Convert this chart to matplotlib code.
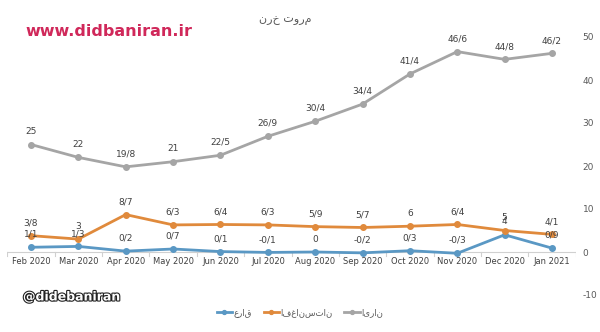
import matplotlib
matplotlib.use("Agg")
from matplotlib import pyplot as plt
import matplotlib.patheffects as pe

months = ["Feb 2020", "Mar 2020", "Apr 2020", "May 2020", "Jun 2020", "Jul 2020",
          "Aug 2020", "Sep 2020", "Oct 2020", "Nov 2020", "Dec 2020", "Jan 2021"]
iran = [25, 22, 19.8, 21, 22.5, 26.9, 30.4, 34.4, 41.4, 46.6, 44.8, 46.2]
afghanistan = [3.8, 3, 8.7, 6.3, 6.4, 6.3, 5.9, 5.7, 6, 6.4, 5, 4.1]
iraq = [1.1, 1.3, 0.2, 0.7, 0.1, -0.1, 0, -0.2, 0.3, -0.3, 4, 0.9]
y_ticks = [-10, 0, 10, 20, 30, 40, 50]

title_fa = "نرخ تورم"
name_iran = "ایران"
name_afg = "افغانستان"
name_iraq = "عراق"

def fa_num(v):
    return ("%g" % v).replace(".", "/")

fig = plt.figure(figsize=(6, 3.32), dpi=100)
ax = fig.add_axes([7.3 / 600, 1 - 295 / 332, (575.7 - 7.3) / 600, 258 / 332])

x = list(range(len(months)))
series = [(iraq, "#5a98c4", name_iraq),
          (afghanistan, "#e08a3c", name_afg),
          (iran, "#a5a5a5", name_iran)]
for vals, col, name in series:
    ax.plot(x, vals, color=col, lw=2, marker="o", ms=4, label=name)
    for xi, v in zip(x, vals):
        ax.annotate(fa_num(v), (xi, v), xytext=(0, 6), textcoords="offset points",
                    ha="center", va="bottom", fontsize=6.5, color="#404040")

ax.set_xlim(-0.5, 11.5)
ax.set_ylim(-10, 50)
ax.set_yticks(y_ticks)
ax.set_yticklabels([str(t) for t in y_ticks])
ax.yaxis.tick_right()
ax.tick_params(axis="y", length=0, labelsize=6.5, labelcolor="#595959", pad=5)
ax.set_xticks(x)
ax.set_xticklabels([])
for s in ax.spines.values():
    s.set_visible(False)
ax.tick_params(axis="x", length=0)
ax.axhline(0, color="#d0d0d0", lw=0.8, zorder=0)
for b in range(13):
    ax.plot([b - 0.5, b - 0.5], [0, -1], color="#d0d0d0", lw=0.8, zorder=0)
for xi, m in zip(x, months):
    ax.text(xi, -2.3, m, ha="center", va="center", fontsize=6, color="#404040")

fig.text(285 / 600, 1 - 20 / 332, title_fa, ha="center", va="center",
         fontsize=8, color="#595959", family="DejaVu Sans")
fig.text(25 / 600, 1 - 32 / 332, "www.didbaniran.ir", ha="left", va="center",
         fontsize=11.5, fontweight="bold", color="#d0285a")
fig.text(23 / 600, 1 - 297 / 332, "@didebaniran", ha="left", va="center",
         fontsize=9, fontweight="bold", color="white",
         path_effects=[pe.withStroke(linewidth=1.6, foreground="#222222")])

leg = ax.legend(loc="center", ncol=3, frameon=False, fontsize=6.2,
                handlelength=1.8, handletextpad=0.2, columnspacing=1.3, markerscale=0.7,
                labelcolor="#595959")
leg.set_bbox_to_anchor((300 / 600, 1 - 313 / 332), transform=fig.transFigure)

fig.savefig("out.png", dpi=100, facecolor="white")
